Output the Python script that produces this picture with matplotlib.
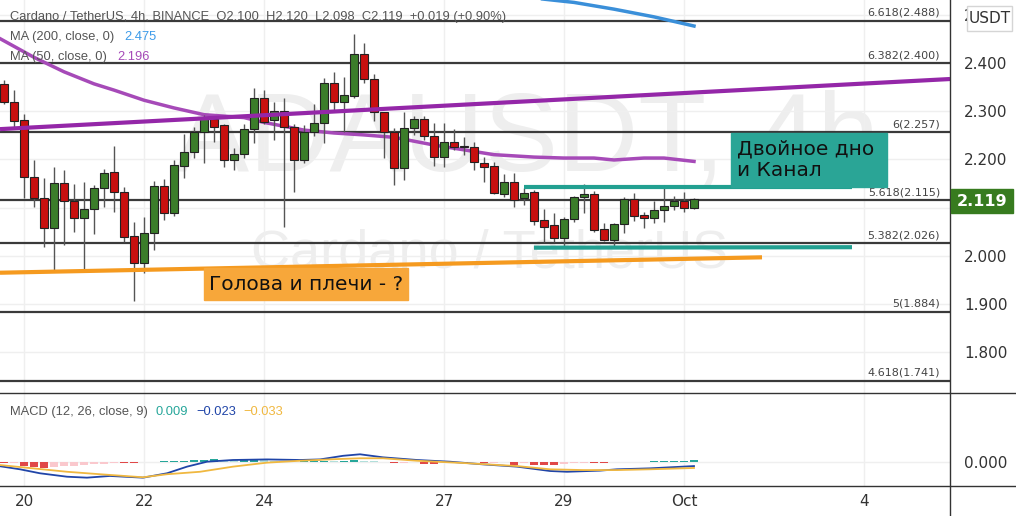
import numpy as np
import matplotlib.pyplot as plt
from matplotlib.patches import Rectangle
from matplotlib.lines import Line2D

# ---- ADA/USDT 4h candles (index 0 = Sep 19 16:00) ----
opens = [2.357, 2.319, 2.282, 2.164, 2.120, 2.058, 2.151, 2.114, 2.079, 2.097,
         2.141, 2.174, 2.133, 2.041, 1.985, 2.048, 2.145, 2.089, 2.187, 2.216,
         2.257, 2.284, 2.272, 2.199, 2.211, 2.263, 2.328, 2.282, 2.301, 2.267,
         2.199, 2.257, 2.276, 2.359, 2.319, 2.332, 2.419, 2.367, 2.299, 2.257,
         2.182, 2.265, 2.284, 2.249, 2.205, 2.236, 2.228, 2.226, 2.193, 2.187,
         2.128, 2.153, 2.120, 2.133, 2.074, 2.064, 2.037, 2.077, 2.122, 2.128,
         2.056, 2.033, 2.066, 2.118, 2.085, 2.079, 2.095, 2.104, 2.114, 2.100]
highs = [2.365, 2.344, 2.294, 2.199, 2.162, 2.184, 2.178, 2.149, 2.153, 2.147,
         2.180, 2.228, 2.143, 2.070, 2.081, 2.155, 2.160, 2.199, 2.253, 2.267,
         2.292, 2.288, 2.274, 2.224, 2.274, 2.348, 2.344, 2.319, 2.328, 2.274,
         2.272, 2.315, 2.369, 2.382, 2.371, 2.460, 2.442, 2.377, 2.299, 2.265,
         2.299, 2.290, 2.290, 2.276, 2.276, 2.263, 2.247, 2.236, 2.205, 2.195,
         2.170, 2.172, 2.141, 2.137, 2.097, 2.089, 2.081, 2.124, 2.149, 2.135,
         2.068, 2.068, 2.122, 2.131, 2.091, 2.114, 2.141, 2.124, 2.133, 2.120]
lows = [2.315, 2.267, 2.120, 2.101, 2.018, 1.967, 2.023, 2.050, 1.967, 2.045,
        2.101, 2.091, 2.029, 1.906, 1.965, 2.012, 2.074, 2.083, 2.162, 2.203,
        2.193, 2.236, 2.184, 2.178, 2.203, 2.234, 2.274, 2.241, 2.060, 2.133,
        2.193, 2.249, 2.234, 2.303, 2.257, 2.328, 2.359, 2.280, 2.203, 2.147,
        2.157, 2.251, 2.241, 2.187, 2.184, 2.220, 2.209, 2.178, 2.153, 2.128,
        2.122, 2.101, 2.106, 2.064, 2.029, 2.029, 2.016, 2.070, 2.089, 2.050,
        2.031, 2.016, 2.048, 2.072, 2.058, 2.068, 2.070, 2.095, 2.091, 2.098]
closes = [2.319, 2.280, 2.164, 2.120, 2.058, 2.151, 2.114, 2.079, 2.097, 2.141,
          2.172, 2.133, 2.039, 1.985, 2.048, 2.145, 2.089, 2.189, 2.216, 2.257,
          2.288, 2.267, 2.199, 2.211, 2.263, 2.328, 2.278, 2.301, 2.267, 2.199,
          2.257, 2.276, 2.359, 2.319, 2.334, 2.419, 2.367, 2.299, 2.257, 2.182,
          2.265, 2.284, 2.249, 2.205, 2.236, 2.226, 2.226, 2.195, 2.184, 2.131,
          2.153, 2.116, 2.131, 2.072, 2.060, 2.037, 2.077, 2.122, 2.128, 2.054,
          2.033, 2.066, 2.118, 2.083, 2.079, 2.095, 2.104, 2.114, 2.099, 2.119]

# moving averages, read at a few candle positions
ma50_t = [-0.5, 3, 6, 9, 11, 14, 17, 20, 24, 26, 30, 33, 36, 39, 43, 46, 49,
          53, 56, 59, 61, 64, 66, 69]
ma50_v = [2.452, 2.412, 2.382, 2.357, 2.344, 2.323, 2.307, 2.293, 2.287, 2.277,
          2.261, 2.255, 2.251, 2.246, 2.230, 2.220, 2.210, 2.205, 2.203, 2.203,
          2.199, 2.203, 2.203, 2.196]
ma200_t = [53.0, 57, 61, 65, 69]
ma200_v = [2.535, 2.526, 2.512, 2.496, 2.477]

# MACD panel
macd_t = [-0.5, 1.6, 3.6, 6.3, 8.3, 10.6, 13.9, 16.3, 18.3, 20.3, 22.9, 26.3,
          29.6, 31.6, 33.9, 35.6, 37.9, 41.3, 44.6, 47.9, 51.3, 54.6, 56.3,
          59.6, 61.3, 64.6, 69]
macd_v = [-0.023, -0.040, -0.061, -0.079, -0.084, -0.075, -0.084, -0.061,
          -0.026, 0.000, 0.009, 0.012, 0.009, 0.012, 0.031, 0.039, 0.023, 0.009,
          0.000, -0.014, -0.026, -0.049, -0.053, -0.047, -0.040, -0.035, -0.023]
signal_t = [-0.5, 2.9, 6.3, 9.6, 13.9, 16.3, 19.6, 22.9, 26.3, 29.6, 32.9, 35.6,
            37.9, 41.3, 46.3, 51.3, 54.6, 57.9, 61.3, 64.6, 69]
signal_v = [-0.017, -0.035, -0.053, -0.066, -0.082, -0.066, -0.053, -0.026,
            -0.005, 0.005, 0.013, 0.018, 0.018, 0.005, -0.008, -0.023, -0.040,
            -0.044, -0.044, -0.040, -0.033]
hist = [-0.009, -0.009, -0.023, -0.026, -0.035, -0.026, -0.024, -0.021, -0.018,
        -0.014, -0.010, -0.006, -0.008, -0.009, -0.004, -0.001, 0.002, 0.004,
        0.006, 0.008, 0.011, 0.013, 0.010, 0.008, 0.010, 0.012, 0.007, 0.004,
        0.002, 0.001, 0.002, 0.003, 0.006, 0.004, 0.005, 0.007, 0.004, 0.002,
        -0.002, -0.009, -0.008, -0.004, -0.010, -0.013, -0.006, -0.003, -0.006,
        -0.004, -0.008, -0.005, -0.003, -0.015, -0.006, -0.016, -0.017, -0.018,
        -0.012, -0.008, -0.005, -0.006, -0.007, -0.003, 0.001, 0.001, 0.001,
        0.003, 0.004, 0.005, 0.006, 0.009]

# fibonacci levels
fib_levels = [2.488, 2.400, 2.257, 2.115, 2.026, 1.884, 1.741]
fib_names = ['6.618', '6.382', '6', '5.618', '5.382', '5', '4.618']

# hand drawn lines (candle index, price)
purple_t, purple_v = [-0.4, 94.6], [2.263, 2.367]
orange_t, orange_v = [-0.4, 75.8], [1.965, 1.997]
chan_top_t, chan_top_v = [52.0, 84.8], [2.143, 2.143]
chan_bot_t, chan_bot_v = [53.0, 84.8], [2.017, 2.018]

date_pos = [2, 14, 26, 44, 56, 68, 86]
date_labels = ['20', '22', '24', '27', '29', 'Oct', '4']
price_ticks = [1.8, 1.9, 2.0, 2.1, 2.2, 2.3, 2.4, 2.5]

#------------------------------------------------------------------------------
W, H = 1016, 516
fx = lambda x: x / W
fy = lambda y: 1 - y / H

fig = plt.figure(figsize=(W / 100, H / 100), dpi=100)
ax = fig.add_axes([0, fy(393), fx(950), 393 / H])
axm = fig.add_axes([0, fy(486), fx(950), 93 / H])

grid_c = '#efefef'
for a in (ax, axm):
    a.set_xlim(-0.4, 94.6)
    a.set_xticks(date_pos)
    a.grid(True, color=grid_c, lw=1)
    a.set_axisbelow(True)
    for s in a.spines.values():
        s.set_visible(False)
    a.yaxis.tick_right()
    a.tick_params(length=0, labelsize=11, labelcolor='#333', pad=10)

ax.set_ylim(1.7154, 2.531)
ax.set_yticks(price_ticks)
ax.set_yticklabels(['%.3f' % p for p in price_ticks])
ax.set_xticklabels([])

# watermark
ax.text(0.555, 0.64, 'ADAUSDT, 4h', transform=ax.transAxes, ha='center', va='center',
        fontsize=80, color='#eeeeee', family='Liberation Sans', zorder=0)
ax.text(0.515, 0.355, 'Cardano / TetherUS', transform=ax.transAxes, ha='center', va='center',
        fontsize=39, color='#eeeeee', family='Liberation Sans', zorder=0)

# fib levels
for lvl, name in zip(fib_levels, fib_names):
    ax.axhline(lvl, color='#3a3a3a', lw=1.6, zorder=2)
    ax.annotate('%s(%.3f)' % (name, lvl), (93.6, lvl), xytext=(0, 2),
                textcoords='offset points', ha='right', va='bottom',
                fontsize=8, color='#444', zorder=3)

# moving averages
ax.plot(ma200_t, ma200_v, color='#3a8fd9', lw=2.5, zorder=3)
ax.plot(ma50_t, ma50_v, color='#a64ab8', lw=2.5, zorder=3)

# candles
t = np.arange(len(opens))
o = np.array(opens); c = np.array(closes)
up = c >= o
ax.vlines(t, lows, highs, color='#555', lw=1, zorder=4)
ax.bar(t, np.maximum(np.abs(c - o), 0.0015), bottom=np.minimum(o, c), width=0.72,
       color=np.where(up, '#3b7d2a', '#c8100f'), edgecolor='#222', linewidth=0.8, zorder=5)

# hand drawn lines
ax.plot(purple_t, purple_v, color='#9427a8', lw=3, zorder=6, solid_capstyle='butt')
ax.plot(orange_t, orange_v, color='#f59a1f', lw=3, zorder=6, solid_capstyle='butt')
ax.plot(chan_top_t, chan_top_v, color='#22a091', lw=3, zorder=6, solid_capstyle='butt')
ax.plot(chan_bot_t, chan_bot_v, color='#22a091', lw=3, zorder=6, solid_capstyle='butt')

# MACD
prev = 0
hcols = []
for h in hist:
    if h >= 0:
        hcols.append('#26a69a' if h >= prev else '#b2dfdb')
    else:
        hcols.append('#e04848' if h < prev else '#fac8cd')
    prev = h
axm.set_ylim(-0.1279, 0.3616)
axm.bar(t, hist, width=0.8, color=hcols, zorder=2)
axm.plot(macd_t, macd_v, color='#2045a8', lw=1.3, zorder=3)
axm.plot(signal_t, signal_v, color='#f0b840', lw=1.3, zorder=3)
axm.set_yticks([0.0])
axm.set_yticklabels(['0.000'])
axm.set_xticklabels(date_labels)
axm.tick_params(axis='x', pad=6)

# frame lines
fig.add_artist(Line2D([fx(950), fx(950)], [0, 1], color='#333', lw=1))
fig.add_artist(Line2D([0, 1], [fy(393), fy(393)], color='#333', lw=1))
fig.add_artist(Line2D([0, 1], [fy(486), fy(486)], color='#333', lw=1))

# header texts
hdr = dict(fontsize=9.3, va='center', family='Liberation Sans')
fig.text(fx(10), fy(17), 'Cardano / TetherUS, 4h, BINANCE  O2.100  H2.120  L2.098  C2.119  +0.019 (+0.90%)',
         color='#555', **hdr)
fig.text(fx(10), fy(37), 'MA (200, close, 0)', color='#555', **hdr)
fig.text(fx(124), fy(37), '2.475', color='#3d9be9', **hdr)
fig.text(fx(10), fy(57), 'MA (50, close, 0)', color='#555', **hdr)
fig.text(fx(117), fy(57), '2.196', color='#a64ab8', **hdr)

fig.text(fx(10), fy(412), 'MACD (12, 26, close, 9)', color='#555', **hdr)
fig.text(fx(156), fy(412), '0.009', color='#26a69a', **hdr)
fig.text(fx(196), fy(412), '\u22120.023', color='#2045a8', **hdr)
fig.text(fx(243), fy(412), '\u22120.033', color='#f0b840', **hdr)

# annotation boxes
fig.add_artist(Rectangle((fx(204), fy(300)), fx(204), 32 / H, transform=fig.transFigure,
                         color='#f7a73a', zorder=7))
fig.text(fx(306), fy(284), 'Голова и плечи - ?', fontsize=14.5, color='#111',
         ha='center', va='center', zorder=8)
fig.add_artist(Rectangle((fx(731), fy(187)), fx(156), 54 / H, transform=fig.transFigure,
                         color='#2aa596', zorder=7))
fig.text(fx(737), fy(160), 'Двойное дно\nи Канал', fontsize=14.5, color='#111',
         ha='left', va='center', linespacing=1.2, zorder=8)

# right axis labels
fig.add_artist(Rectangle((fx(951), fy(213)), fx(62), 24 / H, transform=fig.transFigure,
                         color='#377b1f', zorder=8))
fig.text(fx(982), fy(201), '2.119', fontsize=11.5, color='white', weight='bold',
         ha='center', va='center', zorder=9)
fig.add_artist(Rectangle((fx(967), fy(31)), fx(45), 25 / H, transform=fig.transFigure,
                         fc='white', ec='#d5d5d5', lw=1, zorder=8))
fig.text(fx(989.5), fy(18.5), 'USDT', fontsize=11, color='#333', ha='center', va='center', zorder=9)

fig.savefig('out.png', dpi=100, facecolor='white')
